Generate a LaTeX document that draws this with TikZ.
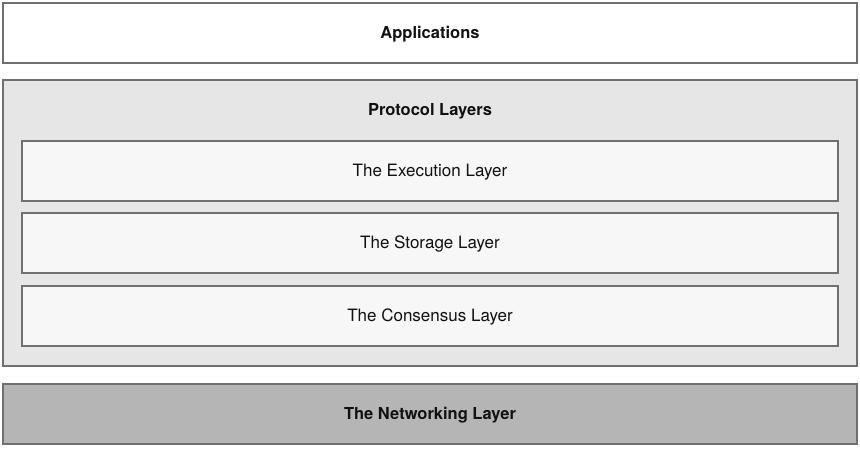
\documentclass[tikz,border=0pt]{standalone}
\usepackage{fontspec}
\setmainfont{TeX Gyre Heros}
\definecolor{edgec}{HTML}{707070}
\definecolor{protofill}{HTML}{E6E6E6}
\definecolor{innerfill}{HTML}{F7F7F7}
\definecolor{netfill}{HTML}{B5B5B5}
\definecolor{txt}{HTML}{111111}
\begin{document}
\begin{tikzpicture}[x=1pt,y=-1pt,
  layerbox/.style={draw=edgec,line width=1.5pt},
  boldlabel/.style={font=\fontsize{16.5}{19}\selectfont\bfseries,text=txt},
  plainlabel/.style={font=\fontsize{17}{20}\selectfont,text=txt}]
\useasboundingbox (0,0) rectangle (860,449);
\fill[white] (0,0) rectangle (860,449);
% Applications
\draw[layerbox,fill=white] (3,3) rectangle (857,63);
\node[boldlabel] (apps) at (430,34.5) {Applications};
% Protocol layers
\draw[layerbox,fill=protofill] (3,80) rectangle (857,366);
\node[boldlabel] (proto) at (430,111.5) {Protocol Layers};
\draw[layerbox,fill=innerfill] (22,141) rectangle (838,201);
\node[plainlabel] (exec) at (430,172.5) {The Execution Layer};
\draw[layerbox,fill=innerfill] (22,213) rectangle (838,273);
\node[plainlabel] (stor) at (430,244.5) {The Storage Layer};
\draw[layerbox,fill=innerfill] (22,286) rectangle (838,346);
\node[plainlabel] (cons) at (430,317.5) {The Consensus Layer};
% Networking
\draw[layerbox,fill=netfill] (3,384) rectangle (857,444);
\node[boldlabel] (net) at (430,415.5) {The Networking Layer};
\end{tikzpicture}
\end{document}
